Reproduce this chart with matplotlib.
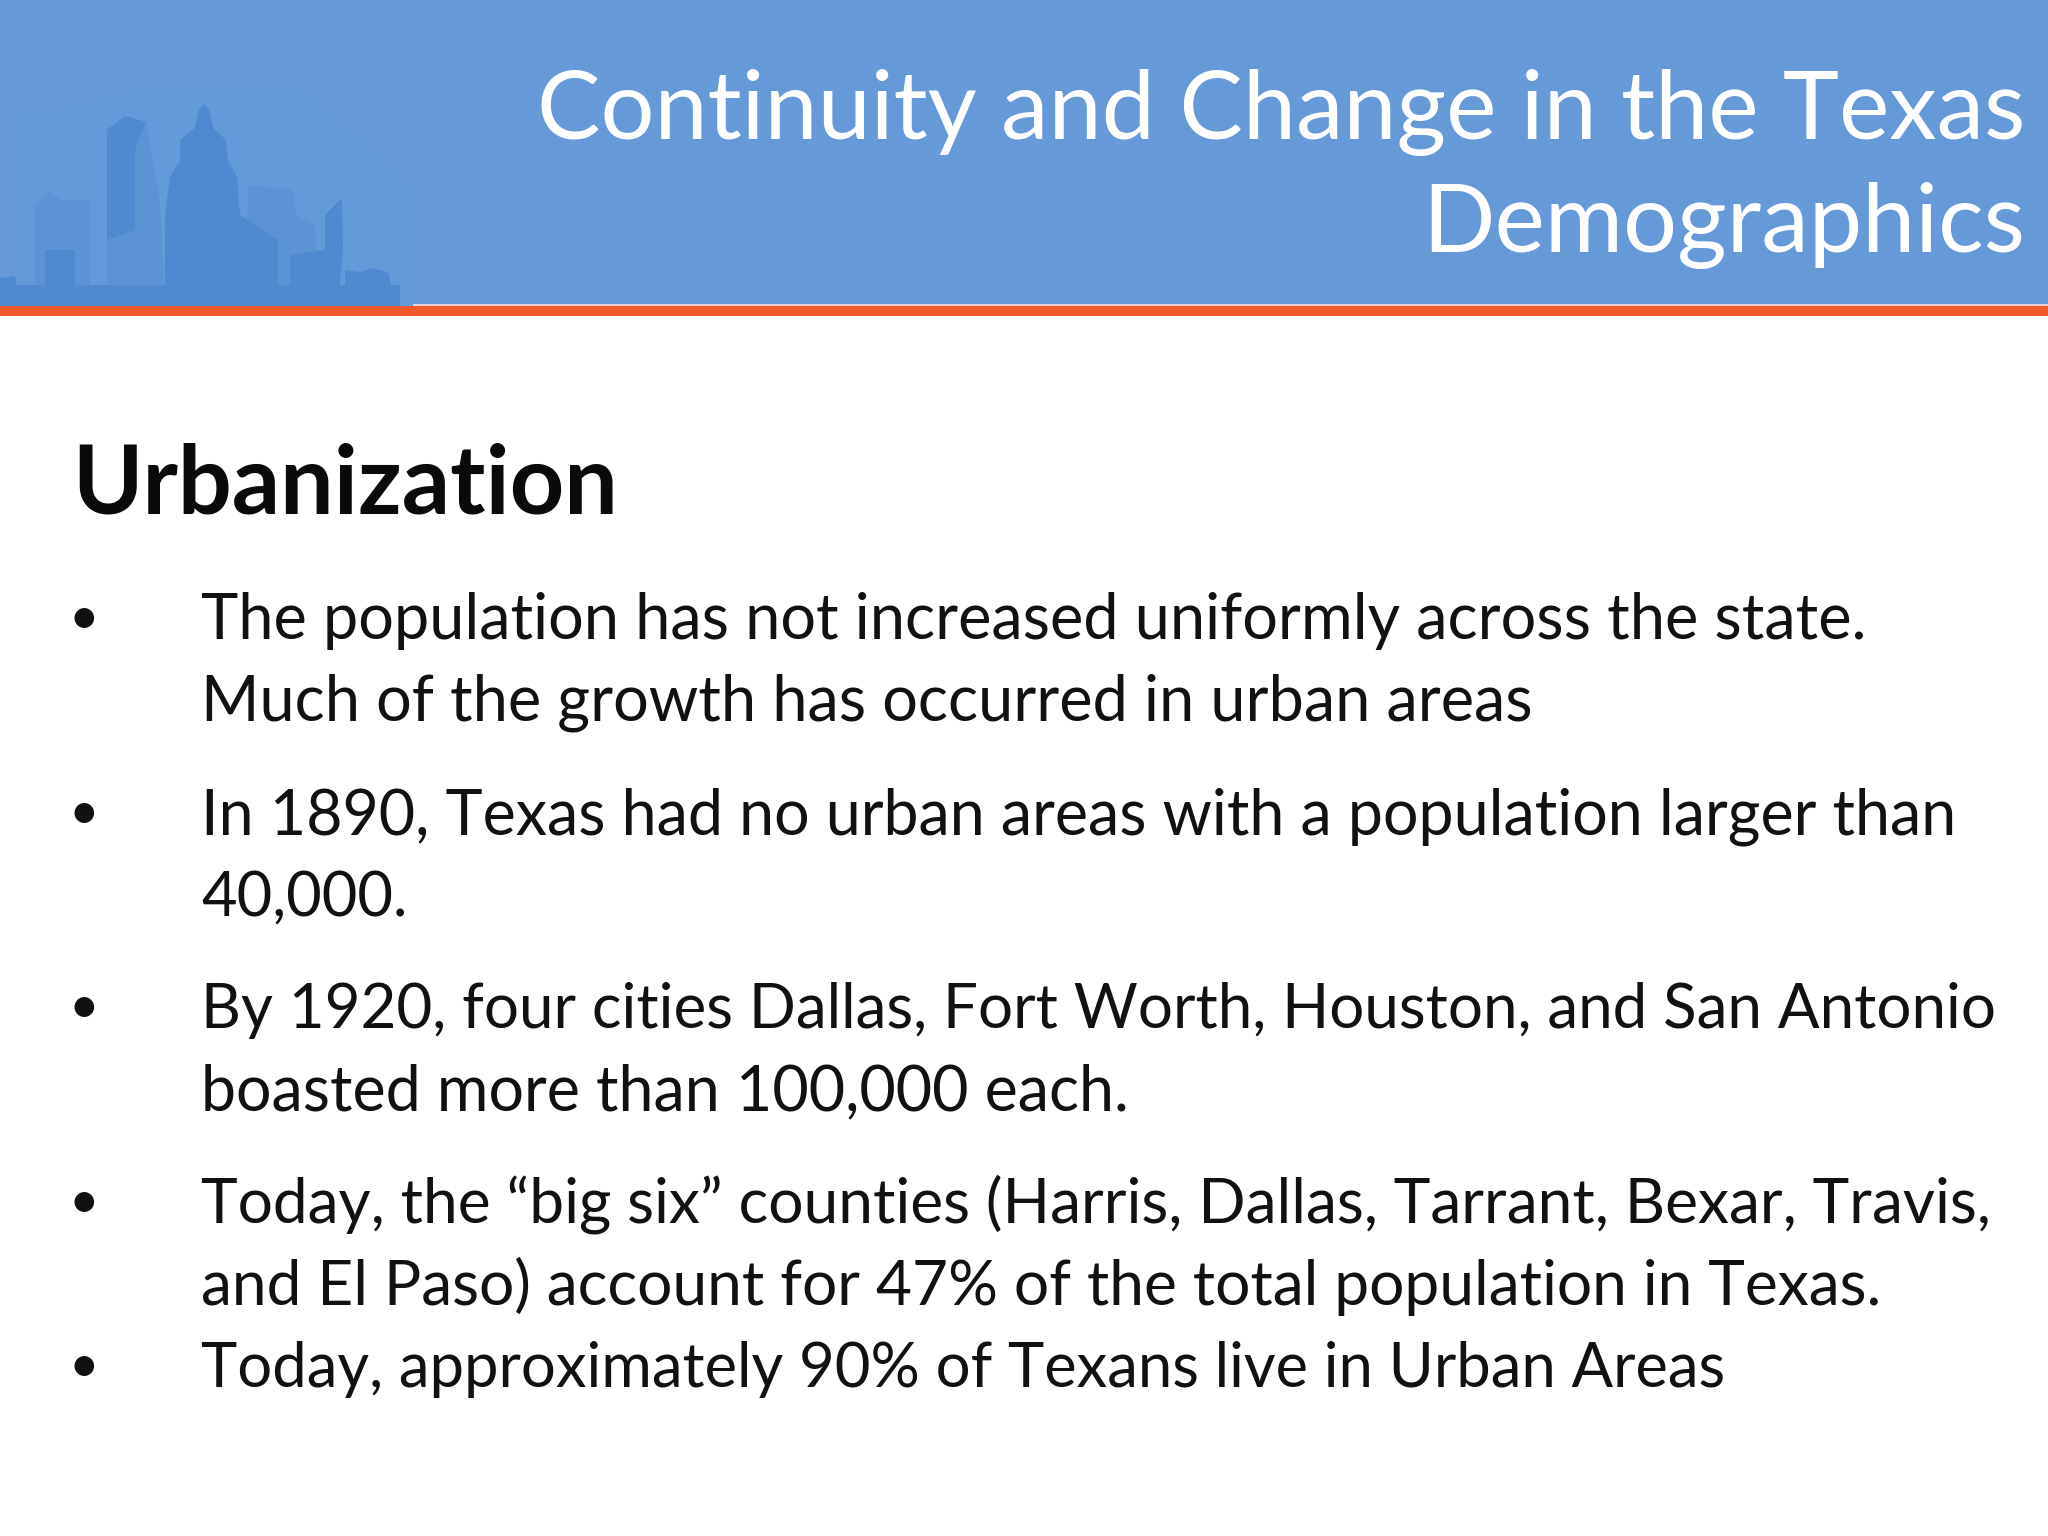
import matplotlib
matplotlib.use("Agg")
import matplotlib.pyplot as plt
from matplotlib.patches import Rectangle, Polygon

title_lines = ["Continuity and Change in the Texas", "Demographics"]
heading = "Urbanization"
body_lines = [
    "The population has not increased uniformly across the state.",
    "Much of the growth has occurred in urban areas",
    "In 1890, Texas had no urban areas with a population larger than",
    "40,000.",
    "By 1920, four cities Dallas, Fort Worth, Houston, and San Antonio",
    "boasted more than 100,000 each.",
    "Today, the “big six” counties (Harris, Dallas, Tarrant, Bexar, Travis,",
    "and El Paso) account for 47% of the total population in Texas.",
    "Today, approximately 90% of Texans live in Urban Areas",
]
has_bullet = [True, False, True, False, True, False, True, False, True]

# layout, kept apart from the text
title_baselines = [139, 252]
body_baselines = [639, 721, 834, 916, 1028, 1110, 1223, 1305, 1387]
body_sizes = [45.4, 45.4, 45.2, 44.2, 44.6, 45.2, 44.8, 44.8, 44.3]

# decorative skyline outlines, pixel vertices
glow = [(20,306),(20,120),(150,90),(300,95),(400,180),(415,306)]
far_blocks = [
    [(35,306),(35,205),(50,192),(62,200),(90,200),(90,306)],
    [(107,306),(107,130),(125,116),(146,122),(160,200),(165,306)],
    [(245,306),(248,185),(293,190),(296,215),(315,225),(318,306)],
]
near_blocks = [
    [(165,306),(165,215),(170,177),(180,160),(180,140),(195,128),(198,112),(204,103),(210,112),
     (213,128),(226,140),(228,160),(237,177),(240,215),(278,240),(278,306)],
    [(107,130),(125,116),(146,122),(135,150),(135,230),(107,240)],
    [(325,306),(325,215),(342,198),(343,250),(338,306)],
    [(45,306),(45,250),(75,250),(75,306)],
    [(290,306),(290,255),(325,250),(325,306)],
    [(0,306),(0,278),(15,276),(20,306)],
    [(345,306),(345,270),(360,272),(372,268),(388,272),(396,306)],
]

plt.rcParams['font.family'] = ['Lato', 'DejaVu Sans']
fig = plt.figure(figsize=(20.48, 15.36), dpi=100, facecolor='white')
ax = fig.add_axes([0, 0, 1, 1])
ax.set_xlim(0, 2048)
ax.set_ylim(1536, 0)
ax.axis('off')

ax.add_patch(Rectangle((0, 0), 2048, 306, fc='#6699D8', ec='none'))
ax.add_patch(Polygon(glow, fc='#639BDA', ec='none'))
for block in far_blocks:
    ax.add_patch(Polygon(block, fc='#5B93D5', ec='none'))
for block in near_blocks:
    ax.add_patch(Polygon(block, fc='#4F89CF', ec='none'))
ax.add_patch(Rectangle((0, 285), 400, 21, fc='#5189CE', ec='none'))
ax.add_patch(Rectangle((413, 304), 1635, 2, fc='#E6D2D2', ec='none'))
ax.add_patch(Rectangle((0, 306), 2048, 10, fc='#F0592A', ec='none'))

for line, y in zip(title_lines, title_baselines):
    ax.text(2025, y, line, ha='right', va='baseline', fontsize=68.6, color='white')
ax.text(72, 513, heading, ha='left', va='baseline', fontsize=68.5, fontweight='bold', color='#0A0A0A')
for line, bullet, y, size in zip(body_lines, has_bullet, body_baselines, body_sizes):
    if bullet:
        ax.text(69, y - 5, "•", ha='left', va='baseline', fontsize=38, color='#111111')
    ax.text(201, y, line, ha='left', va='baseline', fontsize=size, color='#111111')

fig.savefig('out.png', dpi=100)
